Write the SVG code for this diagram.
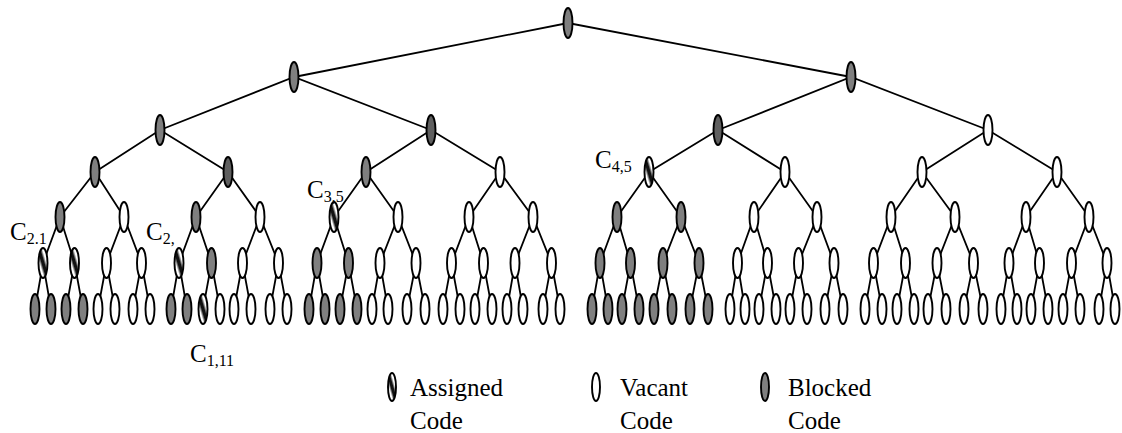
<svg xmlns="http://www.w3.org/2000/svg" width="1122" height="433" viewBox="0 0 1122 433">
<defs>
<linearGradient id="stripe" x1="0" y1="1" x2="1" y2="0">
<stop offset="0" stop-color="#fff"/><stop offset="0.3" stop-color="#fff"/><stop offset="0.44" stop-color="#111"/><stop offset="0.56" stop-color="#111"/><stop offset="0.7" stop-color="#fff"/><stop offset="1" stop-color="#fff"/>
</linearGradient>
<style>
.e{fill:none;stroke:#000;stroke-width:1.8}
ellipse{stroke:#000;stroke-width:1.9}
.b{fill:#7f7f7f}.d{fill:#5f5f5f}.v{fill:#fff}.a{fill:url(#stripe)}
text{font-family:'Liberation Serif','Times New Roman',Times,serif;font-size:25px;fill:#000}
.s{font-size:16px}
</style>
</defs>
<rect width="1122" height="433" fill="#fff"/>
<g id="connectors">
<path class="e" d="M294 77L568 23L851 77"/>
<path class="e" d="M160 130L294 77L431 130"/>
<path class="e" d="M718 130L851 77L988 130"/>
<path class="e" d="M95 172L160 130L228 172"/>
<path class="e" d="M366 172L431 130L500 172"/>
<path class="e" d="M649 172L718 130L785 172"/>
<path class="e" d="M922 172L988 130L1057 172"/>
<path class="e" d="M60 217L95 172L124 217"/>
<path class="e" d="M196 217L228 172L260 217"/>
<path class="e" d="M334 217L366 172L398 217"/>
<path class="e" d="M469 217L500 172L533 217"/>
<path class="e" d="M617 217L649 172L681 217"/>
<path class="e" d="M754 217L785 172L817 217"/>
<path class="e" d="M891 217L922 172L955 217"/>
<path class="e" d="M1026 217L1057 172L1089 217"/>
<path class="e" d="M43 263L60 217L74.5 263"/>
<path class="e" d="M106.5 263L124 217L141.5 263"/>
<path class="e" d="M179 263L196 217L211.5 263"/>
<path class="e" d="M242.5 263L260 217L278.5 263"/>
<path class="e" d="M317 263L334 217L348.5 263"/>
<path class="e" d="M380 263L398 217L416 263"/>
<path class="e" d="M451.5 263L469 217L483.5 263"/>
<path class="e" d="M515 263L533 217L551.5 263"/>
<path class="e" d="M600 263L617 217L630.5 263"/>
<path class="e" d="M663 263L681 217L699 263"/>
<path class="e" d="M737.5 263L754 217L767.5 263"/>
<path class="e" d="M798.5 263L817 217L834 263"/>
<path class="e" d="M873.5 263L891 217L905.5 263"/>
<path class="e" d="M937 263L955 217L973.5 263"/>
<path class="e" d="M1009 263L1026 217L1039.5 263"/>
<path class="e" d="M1071.5 263L1089 217L1107 263"/>
<path class="e" d="M35 309L43 263L51 309"/>
<path class="e" d="M66 309L74.5 263L83 309"/>
<path class="e" d="M98 309L106.5 263L115 309"/>
<path class="e" d="M133 309L141.5 263L150 309"/>
<path class="e" d="M171 309L179 263L187 309"/>
<path class="e" d="M203 309L211.5 263L220 309"/>
<path class="e" d="M234 309L242.5 263L251 309"/>
<path class="e" d="M270 309L278.5 263L287 309"/>
<path class="e" d="M309 309L317 263L325 309"/>
<path class="e" d="M340 309L348.5 263L357 309"/>
<path class="e" d="M372 309L380 263L388 309"/>
<path class="e" d="M407 309L416 263L425 309"/>
<path class="e" d="M443 309L451.5 263L460 309"/>
<path class="e" d="M475 309L483.5 263L492 309"/>
<path class="e" d="M507 309L515 263L523 309"/>
<path class="e" d="M543 309L551.5 263L560 309"/>
<path class="e" d="M592 309L600 263L608 309"/>
<path class="e" d="M622 309L630.5 263L639 309"/>
<path class="e" d="M654 309L663 263L672 309"/>
<path class="e" d="M690 309L699 263L708 309"/>
<path class="e" d="M730 309L737.5 263L745 309"/>
<path class="e" d="M759 309L767.5 263L776 309"/>
<path class="e" d="M790 309L798.5 263L807 309"/>
<path class="e" d="M825 309L834 263L843 309"/>
<path class="e" d="M865 309L873.5 263L882 309"/>
<path class="e" d="M897 309L905.5 263L914 309"/>
<path class="e" d="M928 309L937 263L946 309"/>
<path class="e" d="M964 309L973.5 263L983 309"/>
<path class="e" d="M1001 309L1009 263L1017 309"/>
<path class="e" d="M1031 309L1039.5 263L1048 309"/>
<path class="e" d="M1063 309L1071.5 263L1080 309"/>
<path class="e" d="M1099 309L1107 263L1115 309"/>
</g>
<g id="nodes">
<g id="n0-0"><ellipse class="b" cx="568" cy="23" rx="4.5" ry="15"/></g>
<g id="n1-0"><ellipse class="b" cx="294" cy="77" rx="4.5" ry="15"/></g>
<g id="n1-1"><ellipse class="b" cx="851" cy="77" rx="4.5" ry="15"/></g>
<g id="n2-0"><ellipse class="b" cx="160" cy="130" rx="4.5" ry="15"/></g>
<g id="n2-1"><ellipse class="d" cx="431" cy="130" rx="4.5" ry="15"/></g>
<g id="n2-2"><ellipse class="d" cx="718" cy="130" rx="4.5" ry="15"/></g>
<g id="n2-3"><ellipse class="v" cx="988" cy="130" rx="4.5" ry="15"/></g>
<g id="n3-0"><ellipse class="b" cx="95" cy="172" rx="4.5" ry="15"/></g>
<g id="n3-1"><ellipse class="d" cx="228" cy="172" rx="4.5" ry="15"/></g>
<g id="n3-2"><ellipse class="b" cx="366" cy="172" rx="4.5" ry="15"/></g>
<g id="n3-3"><ellipse class="v" cx="500" cy="172" rx="4.5" ry="15"/></g>
<g id="n3-4"><ellipse class="a" cx="649" cy="172" rx="4.5" ry="15"/></g>
<g id="n3-5"><ellipse class="v" cx="785" cy="172" rx="4.5" ry="15"/></g>
<g id="n3-6"><ellipse class="v" cx="922" cy="172" rx="4.5" ry="15"/></g>
<g id="n3-7"><ellipse class="v" cx="1057" cy="172" rx="4.5" ry="15"/></g>
<g id="n4-0"><ellipse class="b" cx="60" cy="217" rx="4.5" ry="15"/></g>
<g id="n4-1"><ellipse class="v" cx="124" cy="217" rx="4.5" ry="15"/></g>
<g id="n4-2"><ellipse class="b" cx="196" cy="217" rx="4.5" ry="15"/></g>
<g id="n4-3"><ellipse class="v" cx="260" cy="217" rx="4.5" ry="15"/></g>
<g id="n4-4"><ellipse class="a" cx="334" cy="217" rx="4.5" ry="15"/></g>
<g id="n4-5"><ellipse class="v" cx="398" cy="217" rx="4.5" ry="15"/></g>
<g id="n4-6"><ellipse class="v" cx="469" cy="217" rx="4.5" ry="15"/></g>
<g id="n4-7"><ellipse class="v" cx="533" cy="217" rx="4.5" ry="15"/></g>
<g id="n4-8"><ellipse class="b" cx="617" cy="217" rx="4.5" ry="15"/></g>
<g id="n4-9"><ellipse class="b" cx="681" cy="217" rx="4.5" ry="15"/></g>
<g id="n4-10"><ellipse class="v" cx="754" cy="217" rx="4.5" ry="15"/></g>
<g id="n4-11"><ellipse class="v" cx="817" cy="217" rx="4.5" ry="15"/></g>
<g id="n4-12"><ellipse class="v" cx="891" cy="217" rx="4.5" ry="15"/></g>
<g id="n4-13"><ellipse class="v" cx="955" cy="217" rx="4.5" ry="15"/></g>
<g id="n4-14"><ellipse class="v" cx="1026" cy="217" rx="4.5" ry="15"/></g>
<g id="n4-15"><ellipse class="v" cx="1089" cy="217" rx="4.5" ry="15"/></g>
<g id="n5-0"><ellipse class="a" cx="43" cy="263" rx="4.5" ry="15"/></g>
<g id="n5-1"><ellipse class="a" cx="74.5" cy="263" rx="4.5" ry="15"/></g>
<g id="n5-2"><ellipse class="v" cx="106.5" cy="263" rx="4.5" ry="15"/></g>
<g id="n5-3"><ellipse class="v" cx="141.5" cy="263" rx="4.5" ry="15"/></g>
<g id="n5-4"><ellipse class="a" cx="179" cy="263" rx="4.5" ry="15"/></g>
<g id="n5-5"><ellipse class="b" cx="211.5" cy="263" rx="4.5" ry="15"/></g>
<g id="n5-6"><ellipse class="v" cx="242.5" cy="263" rx="4.5" ry="15"/></g>
<g id="n5-7"><ellipse class="v" cx="278.5" cy="263" rx="4.5" ry="15"/></g>
<g id="n5-8"><ellipse class="b" cx="317" cy="263" rx="4.5" ry="15"/></g>
<g id="n5-9"><ellipse class="b" cx="348.5" cy="263" rx="4.5" ry="15"/></g>
<g id="n5-10"><ellipse class="v" cx="380" cy="263" rx="4.5" ry="15"/></g>
<g id="n5-11"><ellipse class="v" cx="416" cy="263" rx="4.5" ry="15"/></g>
<g id="n5-12"><ellipse class="v" cx="451.5" cy="263" rx="4.5" ry="15"/></g>
<g id="n5-13"><ellipse class="v" cx="483.5" cy="263" rx="4.5" ry="15"/></g>
<g id="n5-14"><ellipse class="v" cx="515" cy="263" rx="4.5" ry="15"/></g>
<g id="n5-15"><ellipse class="v" cx="551.5" cy="263" rx="4.5" ry="15"/></g>
<g id="n5-16"><ellipse class="b" cx="600" cy="263" rx="4.5" ry="15"/></g>
<g id="n5-17"><ellipse class="b" cx="630.5" cy="263" rx="4.5" ry="15"/></g>
<g id="n5-18"><ellipse class="b" cx="663" cy="263" rx="4.5" ry="15"/></g>
<g id="n5-19"><ellipse class="b" cx="699" cy="263" rx="4.5" ry="15"/></g>
<g id="n5-20"><ellipse class="v" cx="737.5" cy="263" rx="4.5" ry="15"/></g>
<g id="n5-21"><ellipse class="v" cx="767.5" cy="263" rx="4.5" ry="15"/></g>
<g id="n5-22"><ellipse class="v" cx="798.5" cy="263" rx="4.5" ry="15"/></g>
<g id="n5-23"><ellipse class="v" cx="834" cy="263" rx="4.5" ry="15"/></g>
<g id="n5-24"><ellipse class="v" cx="873.5" cy="263" rx="4.5" ry="15"/></g>
<g id="n5-25"><ellipse class="v" cx="905.5" cy="263" rx="4.5" ry="15"/></g>
<g id="n5-26"><ellipse class="v" cx="937" cy="263" rx="4.5" ry="15"/></g>
<g id="n5-27"><ellipse class="v" cx="973.5" cy="263" rx="4.5" ry="15"/></g>
<g id="n5-28"><ellipse class="v" cx="1009" cy="263" rx="4.5" ry="15"/></g>
<g id="n5-29"><ellipse class="v" cx="1039.5" cy="263" rx="4.5" ry="15"/></g>
<g id="n5-30"><ellipse class="v" cx="1071.5" cy="263" rx="4.5" ry="15"/></g>
<g id="n5-31"><ellipse class="v" cx="1107" cy="263" rx="4.5" ry="15"/></g>
<g id="n6-0"><ellipse class="b" cx="35" cy="309" rx="4.5" ry="15"/></g>
<g id="n6-1"><ellipse class="b" cx="51" cy="309" rx="4.5" ry="15"/></g>
<g id="n6-2"><ellipse class="b" cx="66" cy="309" rx="4.5" ry="15"/></g>
<g id="n6-3"><ellipse class="b" cx="83" cy="309" rx="4.5" ry="15"/></g>
<g id="n6-4"><ellipse class="v" cx="98" cy="309" rx="4.5" ry="15"/></g>
<g id="n6-5"><ellipse class="v" cx="115" cy="309" rx="4.5" ry="15"/></g>
<g id="n6-6"><ellipse class="v" cx="133" cy="309" rx="4.5" ry="15"/></g>
<g id="n6-7"><ellipse class="v" cx="150" cy="309" rx="4.5" ry="15"/></g>
<g id="n6-8"><ellipse class="b" cx="171" cy="309" rx="4.5" ry="15"/></g>
<g id="n6-9"><ellipse class="b" cx="187" cy="309" rx="4.5" ry="15"/></g>
<g id="n6-10"><ellipse class="a" cx="203" cy="309" rx="4.5" ry="15"/></g>
<g id="n6-11"><ellipse class="v" cx="220" cy="309" rx="4.5" ry="15"/></g>
<g id="n6-12"><ellipse class="v" cx="234" cy="309" rx="4.5" ry="15"/></g>
<g id="n6-13"><ellipse class="v" cx="251" cy="309" rx="4.5" ry="15"/></g>
<g id="n6-14"><ellipse class="v" cx="270" cy="309" rx="4.5" ry="15"/></g>
<g id="n6-15"><ellipse class="v" cx="287" cy="309" rx="4.5" ry="15"/></g>
<g id="n6-16"><ellipse class="b" cx="309" cy="309" rx="4.5" ry="15"/></g>
<g id="n6-17"><ellipse class="b" cx="325" cy="309" rx="4.5" ry="15"/></g>
<g id="n6-18"><ellipse class="b" cx="340" cy="309" rx="4.5" ry="15"/></g>
<g id="n6-19"><ellipse class="b" cx="357" cy="309" rx="4.5" ry="15"/></g>
<g id="n6-20"><ellipse class="v" cx="372" cy="309" rx="4.5" ry="15"/></g>
<g id="n6-21"><ellipse class="v" cx="388" cy="309" rx="4.5" ry="15"/></g>
<g id="n6-22"><ellipse class="v" cx="407" cy="309" rx="4.5" ry="15"/></g>
<g id="n6-23"><ellipse class="v" cx="425" cy="309" rx="4.5" ry="15"/></g>
<g id="n6-24"><ellipse class="v" cx="443" cy="309" rx="4.5" ry="15"/></g>
<g id="n6-25"><ellipse class="v" cx="460" cy="309" rx="4.5" ry="15"/></g>
<g id="n6-26"><ellipse class="v" cx="475" cy="309" rx="4.5" ry="15"/></g>
<g id="n6-27"><ellipse class="v" cx="492" cy="309" rx="4.5" ry="15"/></g>
<g id="n6-28"><ellipse class="v" cx="507" cy="309" rx="4.5" ry="15"/></g>
<g id="n6-29"><ellipse class="v" cx="523" cy="309" rx="4.5" ry="15"/></g>
<g id="n6-30"><ellipse class="v" cx="543" cy="309" rx="4.5" ry="15"/></g>
<g id="n6-31"><ellipse class="v" cx="560" cy="309" rx="4.5" ry="15"/></g>
<g id="n6-32"><ellipse class="b" cx="592" cy="309" rx="4.5" ry="15"/></g>
<g id="n6-33"><ellipse class="b" cx="608" cy="309" rx="4.5" ry="15"/></g>
<g id="n6-34"><ellipse class="b" cx="622" cy="309" rx="4.5" ry="15"/></g>
<g id="n6-35"><ellipse class="b" cx="639" cy="309" rx="4.5" ry="15"/></g>
<g id="n6-36"><ellipse class="b" cx="654" cy="309" rx="4.5" ry="15"/></g>
<g id="n6-37"><ellipse class="b" cx="672" cy="309" rx="4.5" ry="15"/></g>
<g id="n6-38"><ellipse class="b" cx="690" cy="309" rx="4.5" ry="15"/></g>
<g id="n6-39"><ellipse class="b" cx="708" cy="309" rx="4.5" ry="15"/></g>
<g id="n6-40"><ellipse class="v" cx="730" cy="309" rx="4.5" ry="15"/></g>
<g id="n6-41"><ellipse class="v" cx="745" cy="309" rx="4.5" ry="15"/></g>
<g id="n6-42"><ellipse class="v" cx="759" cy="309" rx="4.5" ry="15"/></g>
<g id="n6-43"><ellipse class="v" cx="776" cy="309" rx="4.5" ry="15"/></g>
<g id="n6-44"><ellipse class="v" cx="790" cy="309" rx="4.5" ry="15"/></g>
<g id="n6-45"><ellipse class="v" cx="807" cy="309" rx="4.5" ry="15"/></g>
<g id="n6-46"><ellipse class="v" cx="825" cy="309" rx="4.5" ry="15"/></g>
<g id="n6-47"><ellipse class="v" cx="843" cy="309" rx="4.5" ry="15"/></g>
<g id="n6-48"><ellipse class="v" cx="865" cy="309" rx="4.5" ry="15"/></g>
<g id="n6-49"><ellipse class="v" cx="882" cy="309" rx="4.5" ry="15"/></g>
<g id="n6-50"><ellipse class="v" cx="897" cy="309" rx="4.5" ry="15"/></g>
<g id="n6-51"><ellipse class="v" cx="914" cy="309" rx="4.5" ry="15"/></g>
<g id="n6-52"><ellipse class="v" cx="928" cy="309" rx="4.5" ry="15"/></g>
<g id="n6-53"><ellipse class="v" cx="946" cy="309" rx="4.5" ry="15"/></g>
<g id="n6-54"><ellipse class="v" cx="964" cy="309" rx="4.5" ry="15"/></g>
<g id="n6-55"><ellipse class="v" cx="983" cy="309" rx="4.5" ry="15"/></g>
<g id="n6-56"><ellipse class="v" cx="1001" cy="309" rx="4.5" ry="15"/></g>
<g id="n6-57"><ellipse class="v" cx="1017" cy="309" rx="4.5" ry="15"/></g>
<g id="n6-58"><ellipse class="v" cx="1031" cy="309" rx="4.5" ry="15"/></g>
<g id="n6-59"><ellipse class="v" cx="1048" cy="309" rx="4.5" ry="15"/></g>
<g id="n6-60"><ellipse class="v" cx="1063" cy="309" rx="4.5" ry="15"/></g>
<g id="n6-61"><ellipse class="v" cx="1080" cy="309" rx="4.5" ry="15"/></g>
<g id="n6-62"><ellipse class="v" cx="1099" cy="309" rx="4.5" ry="15"/></g>
<g id="n6-63"><ellipse class="v" cx="1115" cy="309" rx="4.5" ry="15"/></g>
</g>
<g id="labels" font-family="Liberation Serif, serif">
<text x="10" y="240">C<tspan class="s" dy="4">2.1</tspan></text>
<text x="146" y="240">C<tspan class="s" dy="4">2,</tspan></text>
<text x="307" y="198">C<tspan class="s" dy="4">3,5</tspan></text>
<text x="595" y="168">C<tspan class="s" dy="4">4,5</tspan></text>
<text x="190" y="362">C<tspan class="s" dy="4">1,11</tspan></text>
</g>
<g id="legend" font-family="Liberation Serif, serif">
<g id="leg-assigned"><ellipse class="a" cx="392" cy="387" rx="4" ry="14"/><text x="410" y="396">Assigned</text><text x="410" y="429">Code</text></g>
<g id="leg-vacant"><ellipse class="v" cx="596" cy="387" rx="4" ry="14"/><text x="620" y="396">Vacant</text><text x="620" y="429">Code</text></g>
<g id="leg-blocked"><ellipse class="b" cx="765" cy="387" rx="4" ry="14"/><text x="788" y="396">Blocked</text><text x="788" y="429">Code</text></g>
</g>
</svg>
